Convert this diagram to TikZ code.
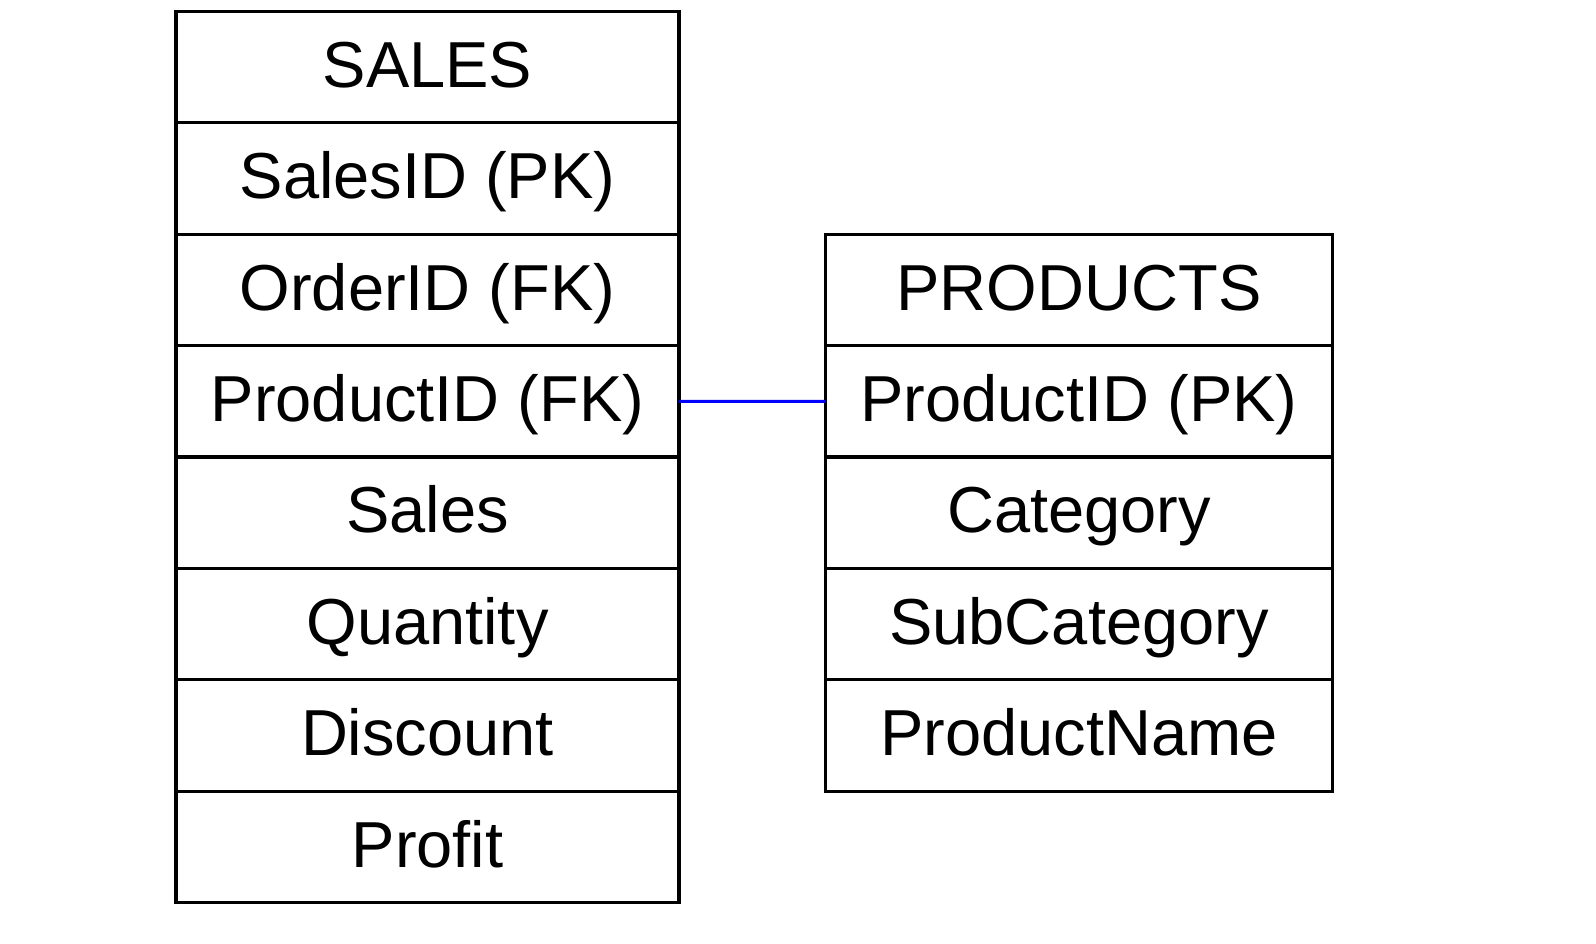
\documentclass[tikz,border=0pt]{standalone}
\usepackage{fontspec}
\setmainfont{Liberation Sans}
\begin{document}
\begin{tikzpicture}[x=1pt,y=-1pt,
  cell/.style={draw, line width=3.2pt, minimum width=#1, minimum height=111.4pt,
    inner sep=0pt, outer sep=0pt, font=\fontsize{65}{78}\selectfont,
    text height=46.5pt, text depth=6pt, anchor=north west},
  link/.style={draw=blue, line width=3pt}]
\useasboundingbox (0,0) rectangle (1596,944);
\foreach \t [count=\i from 0] in {SALES,SalesID (PK),OrderID (FK),ProductID (FK),Sales,Quantity,Discount,Profit}
  \node[cell=503pt] (s\i) at (176,{11.4+111.4*\i}) {\t};
\foreach \t [count=\i from 0] in {PRODUCTS,ProductID (PK),Category,SubCategory,ProductName}
  \node[cell=507pt] (p\i) at (825.5,{234.2+111.4*\i}) {\t};
\draw[link] (s3.east) -- (p1.west);
\end{tikzpicture}
\end{document}
